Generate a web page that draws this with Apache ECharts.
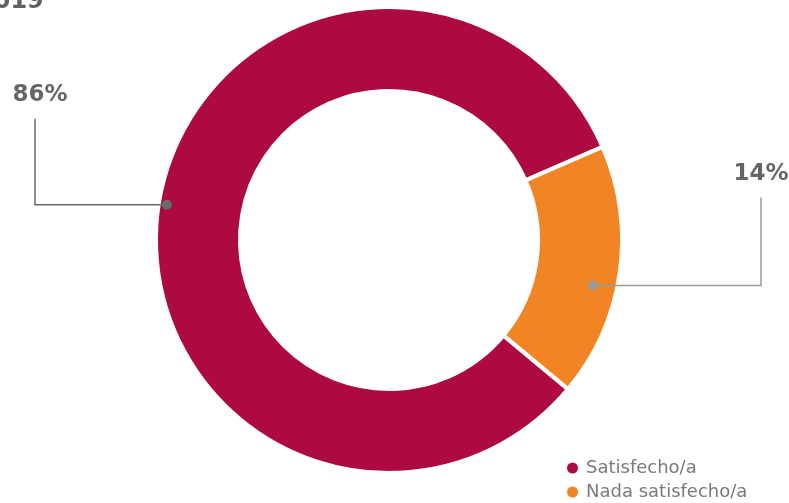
<!DOCTYPE html>
<html><head><meta charset="utf-8">
<script src="https://cdn.jsdelivr.net/npm/echarts@6/dist/echarts.min.js"></script>
<style>html,body{margin:0;padding:0;background:#fff}#c{width:789px;height:503px}</style>
</head><body><div id="c"></div>
<script>
var categories = ['Satisfecho/a', 'Nada satisfecho/a'];
var values = [82.4, 17.6];
var labelTexts = ['86%', '14%'];
var titleText = '2019';

var colors = ['#AD0A3F', '#F28523'];
var lineColors = ['#6a6a6a', '#9c9c9c'];
var CX = 389, CY = 240, R_OUT = 233, R_IN = 149, START = 320.2;
var DOT_FRAC = [0.503, 0.57], DOT_R = [225, 209];
var LEFT_X = 35, RIGHT_X = 761, RISE = [86, 88];

var total = values.reduce(function(a,b){return a+b;},0);
function dotAngle(i){
  var cum = 0; for (var k=0;k<i;k++) cum += values[k];
  var deg = START - (cum + values[i]*DOT_FRAC[i])/total*360;
  return deg*Math.PI/180;
}
function dotPos(i){
  var a = dotAngle(i);
  return [CX + DOT_R[i]*Math.cos(a), CY - DOT_R[i]*Math.sin(a)];
}
function leader(i){
  var d = dotPos(i);
  var lx = Math.cos(dotAngle(i)) < 0 ? LEFT_X : RIGHT_X;
  return {dot:d, corner:[lx,d[1]], end:[lx,d[1]-RISE[i]]};
}

var chart = echarts.init(document.getElementById('c'), null, {renderer:'canvas'});
var data = categories.map(function(n,i){
  return {name:n, value:values[i], itemStyle:{color:colors[i]}, label:{formatter:labelTexts[i]}};
});
var graphics = [];
categories.forEach(function(n,i){
  var L = leader(i);
  graphics.push({type:'polyline', shape:{points:[L.dot, L.corner, L.end]}, style:{stroke:lineColors[i], lineWidth:1.5, fill:null}, z:100});
  graphics.push({type:'circle', shape:{cx:L.dot[0], cy:L.dot[1], r:5}, style:{fill:lineColors[i]}, z:101});
});
chart.setOption({
  animation:false,
  title:{text:titleText, left:-28, top:-15, textStyle:{fontFamily:'DejaVu Sans', fontWeight:'bold', fontSize:24, color:'#5f5f5f'}},
  legend:{orient:'vertical', left:560, bottom:-3, width:225, height:60, icon:'circle', itemWidth:13, itemHeight:13, itemGap:6, align:'left',
    textStyle:{fontFamily:'DejaVu Sans', fontSize:18, color:'#7a7a7a', padding:[0,0,0,2]}, data:categories},
  graphic: graphics,
  series:[{
    type:'pie', center:[CX,CY], radius:[R_IN,R_OUT], startAngle:START, clockwise:true,
    avoidLabelOverlap:false,
    itemStyle:{borderColor:'#fff', borderWidth:4},
    label:{show:true, position:'outside', fontFamily:'DejaVu Sans', fontWeight:'bold', fontSize:23, color:'#666'},
    labelLine:{show:false},
    emphasis:{disabled:true},
    labelLayout:function(p){
      var L = leader(p.dataIndex);
      var left = L.corner[0] === LEFT_X;
      return {x: L.end[0] + (left?5:0), y: L.end[1] - 12, align:'center', verticalAlign:'bottom'};
    },
    data:data
  }]
});
</script></body></html>
